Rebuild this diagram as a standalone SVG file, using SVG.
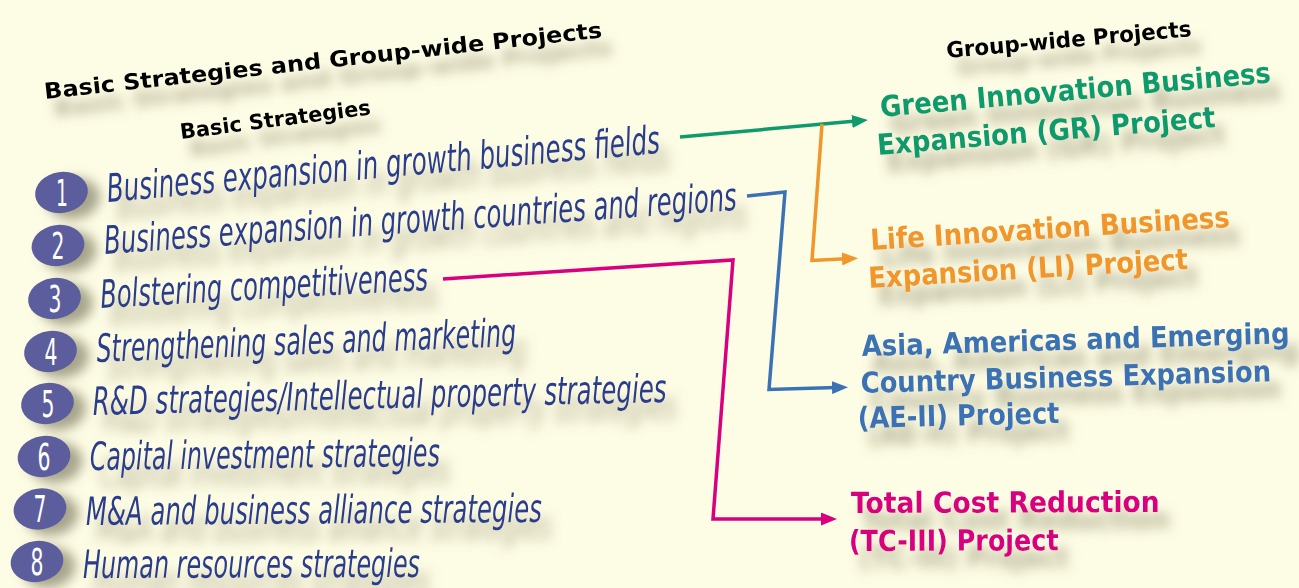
<svg xmlns="http://www.w3.org/2000/svg" width="1299" height="588" viewBox="0 0 1299 588">
  <defs>
    <style>
      .head { font-family: "DejaVu Sans", "Liberation Sans", sans-serif; font-weight: bold; fill: #000; }
      .strat { font-family: "DejaVu Sans", "Liberation Sans", sans-serif; font-style: oblique; font-size: 39px; fill: #2b3e8c; }
      .num { font-family: "DejaVu Sans", "Liberation Sans", sans-serif; font-size: 37px; fill: #fff; text-anchor: middle; }
      .badge { fill: #5b5d9c; }
      .proj { font-family: "DejaVu Sans", "Liberation Sans", sans-serif; font-weight: bold; font-size: 29px; }
      .gr { fill: #0f9a6c; }
      .li { fill: #f0962b; }
      .ae { fill: #3a72b4; }
      .tc { fill: #d8007e; }
      .link { fill: none; stroke-width: 3.5; stroke-linejoin: miter; }
    </style>
    <filter id="drop" x="-20%" y="-80%" width="150%" height="300%">
      <feGaussianBlur in="SourceAlpha" stdDeviation="6"/>
      <feOffset dx="10" dy="17" result="b"/>
      <feFlood flood-color="#a09e82" flood-opacity="0.8"/>
      <feComposite in2="b" operator="in"/>
      <feMerge>
        <feMergeNode/>
        <feMergeNode in="SourceGraphic"/>
      </feMerge>
    </filter>
    <filter id="dropBadge" x="-50%" y="-50%" width="230%" height="220%">
      <feGaussianBlur in="SourceAlpha" stdDeviation="6"/>
      <feOffset dx="12" dy="6" result="b"/>
      <feFlood flood-color="#97957a" flood-opacity="0.85"/>
      <feComposite in2="b" operator="in"/>
      <feMerge>
        <feMergeNode/>
        <feMergeNode in="SourceGraphic"/>
      </feMerge>
    </filter>
    <marker id="ahGreen" viewBox="0 0 16 13" refX="4" refY="6.5" markerWidth="16" markerHeight="13" markerUnits="userSpaceOnUse" orient="auto">
      <path d="M0,0 L16,6.5 L0,13 z" fill="#0f9a6c"/>
    </marker>
    <marker id="ahOrange" viewBox="0 0 16 13" refX="4" refY="6.5" markerWidth="16" markerHeight="13" markerUnits="userSpaceOnUse" orient="auto">
      <path d="M0,0 L16,6.5 L0,13 z" fill="#f0962b"/>
    </marker>
    <marker id="ahBlue" viewBox="0 0 16 13" refX="4" refY="6.5" markerWidth="16" markerHeight="13" markerUnits="userSpaceOnUse" orient="auto">
      <path d="M0,0 L16,6.5 L0,13 z" fill="#3a72b4"/>
    </marker>
    <marker id="ahMagenta" viewBox="0 0 16 13" refX="4" refY="6.5" markerWidth="16" markerHeight="13" markerUnits="userSpaceOnUse" orient="auto">
      <path d="M0,0 L16,6.5 L0,13 z" fill="#d8007e"/>
    </marker>
  </defs>

  <rect width="1299" height="588" fill="#fdfce4"/>

  <!-- headings -->
  <g id="title" filter="url(#drop)">
    <text class="head" x="45" y="99" font-size="22" textLength="561" lengthAdjust="spacingAndGlyphs" transform="rotate(-6.3 45 99)">Basic Strategies and Group-wide Projects</text>
  </g>
  <g id="heading-basic" filter="url(#drop)">
    <text class="head" x="181" y="139" font-size="21" textLength="192" lengthAdjust="spacingAndGlyphs" transform="rotate(-7.4 181 139)">Basic Strategies</text>
  </g>
  <g id="heading-projects" filter="url(#drop)">
    <text class="head" x="947" y="58" font-size="22" textLength="246" lengthAdjust="spacingAndGlyphs" transform="rotate(-5.1 947 58)">Group-wide Projects</text>
  </g>

  <!-- numbered basic strategies -->
  <g id="strategy-1">
    <g filter="url(#dropBadge)"><ellipse class="badge" cx="61.5" cy="192.5" rx="26.5" ry="20.5" transform="rotate(-8 61.5 192.5)"/></g>
    <text class="num" x="62" y="206" textLength="12" lengthAdjust="spacingAndGlyphs">1</text>
    <g filter="url(#drop)"><text class="strat" x="108" y="202" textLength="555" lengthAdjust="spacingAndGlyphs" transform="rotate(-5.07 108 202)">Business expansion in growth business fields</text></g>
  </g>
  <g id="strategy-2">
    <g filter="url(#dropBadge)"><ellipse class="badge" cx="58" cy="245.5" rx="26.5" ry="20.5" transform="rotate(-8 58 245.5)"/></g>
    <text class="num" x="58" y="259" textLength="13" lengthAdjust="spacingAndGlyphs">2</text>
    <g filter="url(#drop)"><text class="strat" x="105" y="254" textLength="634" lengthAdjust="spacingAndGlyphs" transform="rotate(-3.98 105 254)">Business expansion in growth countries and regions</text></g>
  </g>
  <g id="strategy-3">
    <g filter="url(#dropBadge)"><ellipse class="badge" cx="54.5" cy="298.5" rx="26.5" ry="20.5" transform="rotate(-8 54.5 298.5)"/></g>
    <text class="num" x="55" y="312" textLength="13" lengthAdjust="spacingAndGlyphs">3</text>
    <g filter="url(#drop)"><text class="strat" x="101" y="308" textLength="328" lengthAdjust="spacingAndGlyphs" transform="rotate(-3.15 101 308)">Bolstering competitiveness</text></g>
  </g>
  <g id="strategy-4">
    <g filter="url(#dropBadge)"><ellipse class="badge" cx="50.5" cy="351.5" rx="26.5" ry="20.5" transform="rotate(-8 50.5 351.5)"/></g>
    <text class="num" x="51" y="365" textLength="13" lengthAdjust="spacingAndGlyphs">4</text>
    <g filter="url(#drop)"><text class="strat" x="97" y="362" textLength="420" lengthAdjust="spacingAndGlyphs" transform="rotate(-2.18 97 362)">Strengthening sales and marketing</text></g>
  </g>
  <g id="strategy-5">
    <g filter="url(#dropBadge)"><ellipse class="badge" cx="47.5" cy="403.5" rx="26.5" ry="20.5" transform="rotate(-8 47.5 403.5)"/></g>
    <text class="num" x="48" y="417" textLength="13" lengthAdjust="spacingAndGlyphs">5</text>
    <g filter="url(#drop)"><text class="strat" x="93" y="415" textLength="574" lengthAdjust="spacingAndGlyphs" transform="rotate(-1.3 93 415)">R&amp;D strategies/Intellectual property strategies</text></g>
  </g>
  <g id="strategy-6">
    <g filter="url(#dropBadge)"><ellipse class="badge" cx="44" cy="456.5" rx="26.5" ry="20.5" transform="rotate(-8 44 456.5)"/></g>
    <text class="num" x="44" y="470" textLength="13" lengthAdjust="spacingAndGlyphs">6</text>
    <g filter="url(#drop)"><text class="strat" x="90" y="470" textLength="350" lengthAdjust="spacingAndGlyphs" transform="rotate(-0.65 90 470)">Capital investment strategies</text></g>
  </g>
  <g id="strategy-7">
    <g filter="url(#dropBadge)"><ellipse class="badge" cx="40" cy="509" rx="26.5" ry="20.5" transform="rotate(-8 40 509)"/></g>
    <text class="num" x="40" y="522" textLength="13" lengthAdjust="spacingAndGlyphs">7</text>
    <g filter="url(#drop)"><text class="strat" x="86" y="525" textLength="456" lengthAdjust="spacingAndGlyphs" transform="rotate(-0.38 86 525)">M&amp;A and business alliance strategies</text></g>
  </g>
  <g id="strategy-8">
    <g filter="url(#dropBadge)"><ellipse class="badge" cx="37" cy="561.5" rx="26.5" ry="20.5" transform="rotate(-8 37 561.5)"/></g>
    <text class="num" x="37" y="575" textLength="13" lengthAdjust="spacingAndGlyphs">8</text>
    <g filter="url(#drop)"><text class="strat" x="83" y="578" textLength="337" lengthAdjust="spacingAndGlyphs" transform="rotate(-0.17 83 578)">Human resources strategies</text></g>
  </g>

  <!-- group-wide projects: glyphs narrowed by a horizontal scale along each baseline -->
  <g id="project-gr" class="proj gr" filter="url(#drop)">
    <text x="881" y="117" textLength="490" lengthAdjust="spacingAndGlyphs" transform="rotate(-5.06 881 117) translate(881 117) scale(0.8 1) translate(-881 -117)">Green Innovation Business</text>
    <text x="878" y="155" textLength="424" lengthAdjust="spacingAndGlyphs" transform="rotate(-4.74 878 155) translate(878 155) scale(0.8 1) translate(-878 -155)">Expansion (GR) Project</text>
  </g>
  <g id="project-li" class="proj li" filter="url(#drop)">
    <text x="871" y="250" textLength="450" lengthAdjust="spacingAndGlyphs" transform="rotate(-3.66 871 250) translate(871 250) scale(0.8 1) translate(-871 -250)">Life Innovation Business</text>
    <text x="869" y="288" textLength="400" lengthAdjust="spacingAndGlyphs" transform="rotate(-3.4 869 288) translate(869 288) scale(0.8 1) translate(-869 -288)">Expansion (LI) Project</text>
  </g>
  <g id="project-ae" class="proj ae" filter="url(#drop)">
    <text x="862" y="356" textLength="535" lengthAdjust="spacingAndGlyphs" transform="rotate(-1.71 862 356) translate(862 356) scale(0.8 1) translate(-862 -356)">Asia, Americas and Emerging</text>
    <text x="861" y="393" textLength="513" lengthAdjust="spacingAndGlyphs" transform="rotate(-1.65 861 393) translate(861 393) scale(0.8 1) translate(-861 -393)">Country Business Expansion</text>
    <text x="858" y="428" textLength="252" lengthAdjust="spacingAndGlyphs" transform="rotate(-1.4 858 428) translate(858 428) scale(0.8 1) translate(-858 -428)">(AE-II) Project</text>
  </g>
  <g id="project-tc" class="proj tc" filter="url(#drop)">
    <text x="851" y="513" textLength="386" lengthAdjust="spacingAndGlyphs" transform="rotate(-0.2 851 513) translate(851 513) scale(0.8 1) translate(-851 -513)">Total Cost Reduction</text>
    <text x="849" y="551" textLength="262" lengthAdjust="spacingAndGlyphs" transform="rotate(-0.2 849 551) translate(849 551) scale(0.8 1) translate(-849 -551)">(TC-III) Project</text>
  </g>

  <!-- connectors from strategies to projects -->
  <g id="connectors">
    <path class="link" stroke="#0f9a6c" d="M680,137 L856,121.1" marker-end="url(#ahGreen)"/>
    <path class="link" stroke="#f0962b" d="M822,124 L812,260.5 L846,258.8" marker-end="url(#ahOrange)"/>
    <path class="link" stroke="#3a72b4" d="M747,196 L785,192 L769,389.5 L836,387.5" marker-end="url(#ahBlue)"/>
    <path class="link" stroke="#d8007e" d="M443,279 L733,260 L713,519 L825,519" marker-end="url(#ahMagenta)"/>
  </g>
</svg>
